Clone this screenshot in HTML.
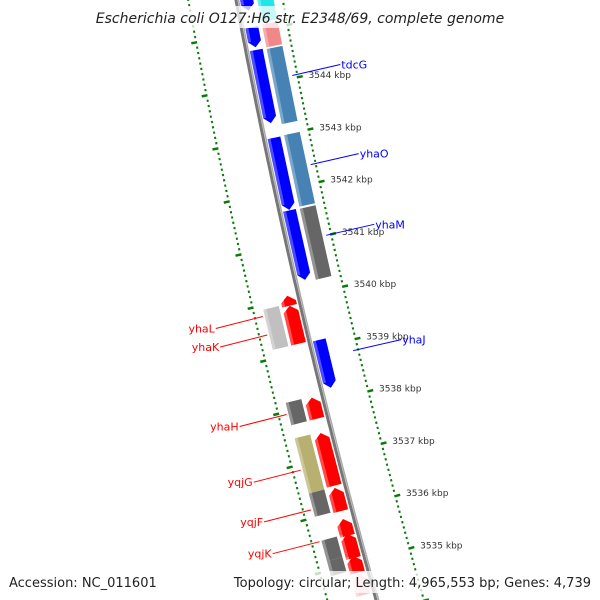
<!DOCTYPE html>
<html><head><meta charset="utf-8">
<style>
html,body{margin:0;padding:0;background:#fff;}
svg{display:block;font-family:"DejaVu Sans","Liberation Sans",sans-serif;}
</style></head>
<body>
<svg id="map" width="600" height="600" viewBox="0 0 600 600" xmlns="http://www.w3.org/2000/svg">
<rect x="0" y="0" width="600" height="600" fill="#fff"/>
<g id="layer"></g>
<rect x="95" y="6" width="412" height="22" fill="#fff" fill-opacity="0.75"/>
<text x="300" y="23" text-anchor="middle" font-size="14" font-style="italic" fill="#222">Escherichia coli O127:H6 str. E2348/69, complete genome</text>
<rect x="255" y="571" width="345" height="22" fill="#fff" fill-opacity="0.75"/>
<text x="9" y="587" font-size="13" fill="#222">Accession: NC_011601</text>
<text x="591" y="587" text-anchor="end" font-size="13" fill="#222">Topology: circular; Length: 4,965,553 bp; Genes: 4,739</text>
</svg>
<script>
// ---- data (kbp positions) ----
const tickStart = 3534;
const tickEnd = 3546;
const majorTickLabels = [3544, 3543, 3542, 3541, 3540, 3539, 3538, 3537, 3536, 3535];
// forward-strand genes (blue, right of backbone)
const fwdStart = [3545.80, 3545.08, 3544.65, 3542.98, 3541.60, 3539.14];
const fwdEnd   = [3545.40, 3544.70, 3543.26, 3541.61, 3540.28, 3538.23];
// right COG track
const cogRStart = [3545.90, 3545.10, 3544.63, 3542.99, 3541.59];
const cogREnd   = [3545.14, 3544.66, 3543.20, 3541.63, 3540.24];
const cogRColor = ["#22e6e6", "#f08888", "#4682b4", "#4682b4", "#666666"];
// reverse-strand genes (red, left of backbone)
const revStart = [3540.07, 3539.88, 3538.14, 3537.47, 3536.43, 3535.84, 3535.56, 3535.14, 3534.80];
const revEnd   = [3539.88, 3539.16, 3537.74, 3536.47, 3535.99, 3535.52, 3535.10, 3534.82, 3534.40];
const revColor = ["#ff0000","#ff0000","#ff0000","#ff0000","#ff0000","#ff0000","#ff0000","#ff0000","#ffc8c8"];
// left COG track
const cogLStart = [3539.92, 3538.16, 3537.49, 3536.45, 3535.56, 3535.17];
const cogLEnd   = [3539.16, 3537.74, 3536.45, 3536.01, 3535.17, 3534.89];
const cogLColor = ["#c0c0c0", "#666666", "#b8b070", "#666666", "#666666", "#666666"];
// gene labels
const labelNames = ["tdcG","yhaO","yhaM","yhaJ","yhaL","yhaK","yhaH","yqjG","yqjF","yqjK"];
const labelKbp   = [3544.05, 3542.35, 3541.00, 3538.80, 3539.80, 3539.45, 3537.95, 3536.90, 3536.15, 3535.55];
const labelSide  = ["r","r","r","r","l","l","l","l","l","l"];

// ---- geometry ----
const NS = "http://www.w3.org/2000/svg";
const layer = document.getElementById("layer");
function yb(k){ return 86 + (3544 - k) * 52.7; }
function bx(y){ return 237 + 0.1867*y + 7.8e-5*y*y; }
function P(k, o){
  const y = yb(k); const d = 0.1867 + 1.56e-4*y; const L = Math.sqrt(1+d*d);
  return [bx(y) + o/L, y - o*d/L];
}
function mk(tag, attrs){ const e = document.createElementNS(NS, tag); for (const a in attrs) e.setAttribute(a, attrs[a]); layer.appendChild(e); return e; }
function pts(a){ return a.map(p => p[0].toFixed(1)+","+p[1].toFixed(1)).join(" "); }

// backbone
(function(){
  const a = [], b = [];
  for (let k = 3546.2; k >= 3534.0; k -= 0.1){ a.push(P(k,-1)); b.push(P(k,1.5)); }
  const bb = mk("polyline", {points: pts(a), fill:"none", stroke:"#777", "stroke-width":"3"});
  
  
  const hl = mk("polyline", {points: pts(b), fill:"none", stroke:"#aaa", "stroke-width":"1.5"});
  
  
})();

// tick rings
function ring(off, dir, name){
  for (let i = 0; i <= Math.round((tickEnd - tickStart)*10); i++){
    const k = tickStart + i/10;
    const major = i % 10 === 0;
    const len = major ? 6 : 2;
    const p1 = P(k, off - (dir>0?0:len)), p2 = P(k, off + (dir>0?len:0));
    const t = mk("line", {x1:p1[0].toFixed(1), y1:p1[1].toFixed(1), x2:p2[0].toFixed(1), y2:p2[1].toFixed(1), stroke:"#0a7a0a", "stroke-width": major ? "2.5" : "2.2"});
    
    
  }
}
ring(44, 1, "outer-ring");
ring(-47, -1, "inner-ring");
majorTickLabels.forEach(k => {
  const p = P(k, 56);
  const t = mk("text", {x:p[0].toFixed(1), y:(p[1]+3).toFixed(1), "font-size":"9", fill:"#333"});
  t.textContent = k + " kbp";
  
  
});

// features
function feature(k1, k2, o1, o2, dir, color, name){
  const h = 6, om = (o1+o2)/2;
  let poly;
  const dk = h/52.7;
  if (dir === "down") poly = [P(k1,o1), P(k1,o2), P(k2+dk,o2), P(k2,om), P(k2+dk,o1)];
  else if (dir === "up") poly = [P(k1-dk,o1), P(k1,om), P(k1-dk,o2), P(k2,o2), P(k2,o1)];
  else poly = [P(k1,o1), P(k1,o2), P(k2,o2), P(k2,o1)];
  const e = mk("polygon", {points: pts(poly), fill: color});
  
  
  const s = mk("polygon", {points: pts([P(k1,o1), P(k1,o1+3), P(k2+(dir==="down"?dk:0),o1+3), P(k2+(dir==="down"?dk:0),o1)]), fill:"#fff", "fill-opacity":"0.3"});
  
  
}
fwdStart.forEach((k,i) => feature(k, fwdEnd[i], 3, 16, "down", "#0000ff", "forward-gene"));
cogRStart.forEach((k,i) => feature(k, cogREnd[i], 20, 36, null, cogRColor[i], "cog-feature-right"));
revStart.forEach((k,i) => feature(k, revEnd[i], -19, -4, "up", revColor[i], "reverse-gene"));
cogLStart.forEach((k,i) => feature(k, cogLEnd[i], -38, -22, null, cogLColor[i], "cog-feature-left"));

// gene labels
labelNames.forEach((n,i) => {
  const right = labelSide[i] === "r";
  const p1 = P(labelKbp[i], right ? 40 : -40);
  const p2 = right ? [p1[0] + 48, p1[1] - 11] : [p1[0] - 47, p1[1] + 12];
  const col = right ? "#0000ff" : "#ff0000";
  const l = mk("line", {x1:p1[0].toFixed(1), y1:p1[1].toFixed(1), x2:p2[0].toFixed(1), y2:p2[1].toFixed(1), stroke:col, "stroke-width":"1"});
  
  
  const t = mk("text", {x:(p2[0] + (right?1:-1)).toFixed(1), y:(p2[1]+4).toFixed(1), "font-size":"11", fill:col, "text-anchor": right ? "start" : "end"});
  t.textContent = n;
  
  
});
</script>
</body></html>
